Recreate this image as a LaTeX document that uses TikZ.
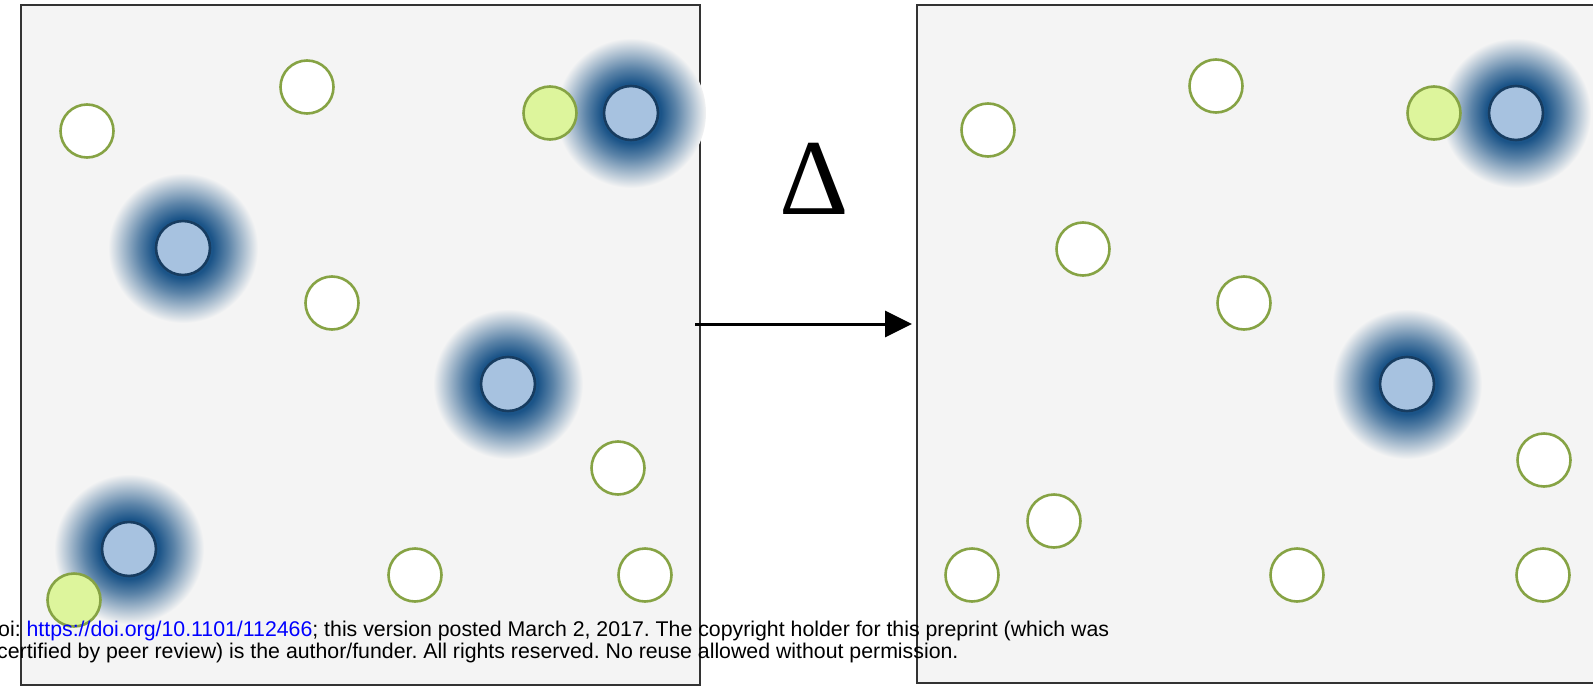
\documentclass[tikz,border=0pt]{standalone}
\usepackage{fontspec}
\setmainfont{Liberation Sans}
\newfontfamily\deltafont{Liberation Serif}
\usetikzlibrary{arrows.meta}
\frenchspacing

\definecolor{panelgray}{HTML}{F4F4F4}
\definecolor{framegray}{HTML}{333333}
\definecolor{rimgreen}{HTML}{86A344}
\definecolor{limefill}{HTML}{DDF59C}
\definecolor{bluefill}{HTML}{A7C2E0}
\definecolor{bluerim}{HTML}{173C60}
\definecolor{glowblue}{HTML}{1B5488}
\definecolor{linkblue}{HTML}{0000FF}

\pgfdeclareradialshading{glow}{\pgfpoint{0bp}{0bp}}{color(0bp)=(glowblue); color(10bp)=(glowblue); color(15bp)=(glowblue!70!panelgray); color(25bp)=(panelgray); color(50bp)=(panelgray)}

\tikzset{
  panel/.style={draw=framegray, fill=panelgray, line width=2.8pt},
  empty/.style={circle, draw=rimgreen, fill=white, line width=2.6pt, minimum size=53pt, inner sep=0pt},
  lime/.style={empty, fill=limefill},
  bound/.style={circle, draw=bluerim, fill=bluefill, line width=2.6pt, minimum size=54pt, inner sep=0pt},
  halo/.style={circle, shade, shading=glow, minimum size=150pt, inner sep=0pt},
  push/.style={line width=3pt, -{Triangle[length=27pt,width=26pt]}},
  note/.style={anchor=base west, inner sep=0pt, font=\fontsize{21.3}{22}\selectfont}
}

\begin{document}
\begin{tikzpicture}[x=1pt,y=-1pt]
\useasboundingbox (0,0) rectangle (1593,688);
\clip (0,0) rectangle (1593,688);
% panels
\draw [panel] (21,5) rectangle (700,685);
\draw [panel] (917,5) rectangle (1620,683);
% glows, before
\node [halo] (h1) at (631,113) {};
\node [halo] (h2) at (183,248) {};
\node [halo] (h3) at (508,384) {};
\node [halo] (h4) at (129,549) {};
% glows, after
\node [halo] (h5) at (1516,113) {};
\node [halo] (h6) at (1407,384) {};
% before
\node [bound] (b1) at (h1) {};
\node [bound] (b2) at (h2) {};
\node [bound] (b3) at (h3) {};
\node [bound] (b4) at (h4) {};
\node [lime] (g1) at (550,113) {};
\node [lime] (g2) at (74,600) {};
\node [empty] (e1) at (87,131) {};
\node [empty] (e2) at (307,87) {};
\node [empty] (e3) at (332,303) {};
\node [empty] (e4) at (618,468) {};
\node [empty] (e5) at (415,575) {};
\node [empty] (e6) at (645,575) {};
% after
\node [bound] (b5) at (h5) {};
\node [bound] (b6) at (h6) {};
\node [lime] (g3) at (1434,113) {};
\node [empty] (e7) at (988,130) {};
\node [empty] (e8) at (1216,86) {};
\node [empty] (e9) at (1083,249) {};
\node [empty] (e10) at (1244,303) {};
\node [empty] (e11) at (1544,460) {};
\node [empty] (e12) at (1054,521) {};
\node [empty] (e13) at (972,575) {};
\node [empty] (e14) at (1297,575) {};
\node [empty] (e15) at (1543,575) {};
% heating step
\coordinate (start) at (695,324);
\coordinate (stop) at (912,324);
\draw [push] (start) -- (stop);
\node [anchor=base, inner sep=0pt, font=\deltafont\fontsize{108}{108}\selectfont] (delta) at (814,214) {Δ};
% preprint footer
\node [note] (line1) at (-2,636) {oi: \textcolor{linkblue}{https://doi.org/10.1101/112466}; this version posted March 2, 2017. The copyright holder for this preprint (which was};
\node [note] (line2) at (-3,658) {certified by peer review) is the author/funder. All rights reserved. No reuse allowed without permission.};
\end{tikzpicture}
\end{document}
